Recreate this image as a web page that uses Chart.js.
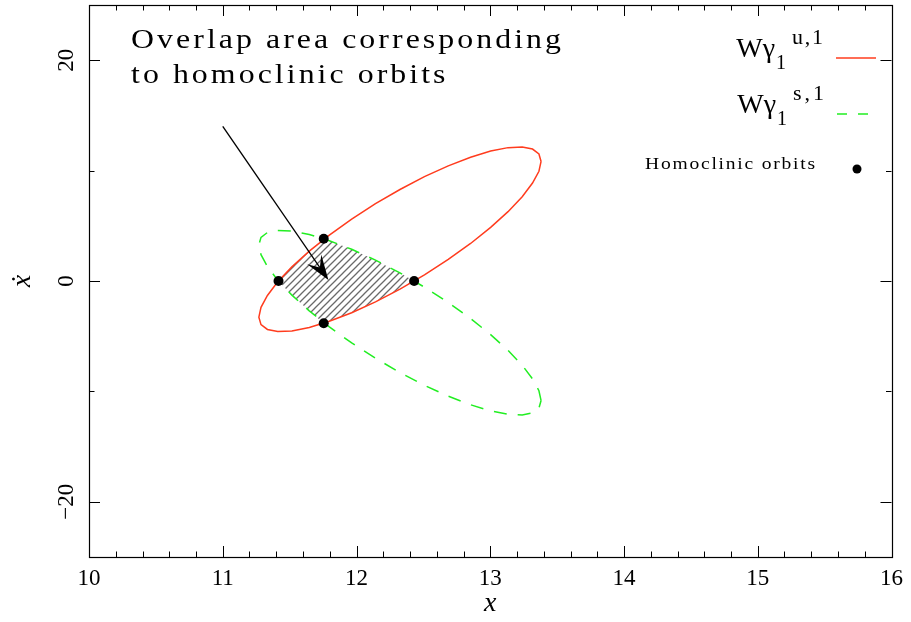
<!DOCTYPE html>
<html><head><meta charset="utf-8">
<script src="https://cdn.jsdelivr.net/npm/chart.js@4.4.1/dist/chart.umd.min.js"></script>
<style>html,body{margin:0;padding:0;background:#fff;}</style>
</head><body>
<canvas id="c" width="911" height="622"></canvas>
<script>
// ---- data ----
const unstableX = [13.380,13.364,13.316,13.239,13.133,13.003,12.853,12.686,12.508,12.325,12.142,11.964,11.797,11.647,11.517,11.411,11.334,11.286,11.270,11.286,11.334,11.411,11.517,11.647,11.797,11.964,12.142,12.325,12.508,12.686,12.853,13.003,13.133,13.239,13.316,13.364,13.380];
const unstableY = [10.83,9.94,8.87,7.63,6.28,4.86,3.40,1.95,0.56,-0.73,-1.89,-2.87,-3.65,-4.21,-4.52,-4.58,-4.39,-3.95,-3.27,-2.38,-1.31,-0.07,1.28,2.70,4.16,5.61,7.00,8.29,9.45,10.43,11.21,11.77,12.08,12.14,11.95,11.51,10.83];
const stableX = [13.380,13.364,13.316,13.239,13.133,13.003,12.853,12.686,12.508,12.325,12.142,11.964,11.797,11.647,11.517,11.411,11.334,11.286,11.270,11.286,11.334,11.411,11.517,11.647,11.797,11.964,12.142,12.325,12.508,12.686,12.853,13.003,13.133,13.239,13.316,13.364,13.380];
const stableY = [-10.83,-9.94,-8.87,-7.63,-6.28,-4.86,-3.40,-1.95,-0.56,0.73,1.89,2.87,3.65,4.21,4.52,4.58,4.39,3.95,3.27,2.38,1.31,0.07,-1.28,-2.70,-4.16,-5.61,-7.00,-8.29,-9.45,-10.43,-11.21,-11.77,-12.08,-12.14,-11.95,-11.51,-10.83];
const overlapX = [11.417,11.517,11.647,11.755,11.797,11.964,12.142,12.325,12.431,12.325,12.142,11.964,11.797,11.755,11.647,11.517];
const overlapY = [0,1.28,2.70,3.82,3.65,2.87,1.89,0.73,0,-0.73,-1.89,-2.87,-3.65,-3.82,-2.70,-1.28];
const homoclinicX = [11.417,11.755,12.431,11.755];
const homoclinicY = [0,3.82,0,-3.82];
const arrowX = [11.0, 11.79];
const arrowY = [14.0, 0.1];
const xTickValues = [10,11,12,13,14,15,16];
const xTickLabels = ['10','11','12','13','14','15','16'];
const yTickValues = [-20,0,20];
const yTickLabels = ['\u221220','0','20'];
const yMinorTickValues = [-10,10];
const annotationLines = ['Overlap area corresponding','to homoclinic orbits'];
const legendHomoclinic = 'Homoclinic orbits';

// ---- styles ----
const RED = '#ff3c1e';
const GREEN = '#22ee22';
const SERIF = '"Liberation Serif", "DejaVu Serif", serif';

const canvas = document.getElementById('c');
const ctx0 = canvas.getContext('2d');
function makeHatch() {
  const s = 7, c = document.createElement('canvas');
  c.width = s; c.height = s;
  const g = c.getContext('2d');
  g.strokeStyle = '#6a6a6a'; g.lineWidth = 1.3;
  g.beginPath();
  g.moveTo(0, s); g.lineTo(s, 0);
  g.moveTo(-1, 1); g.lineTo(1, -1);
  g.moveTo(s - 1, s + 1); g.lineTo(s + 1, s - 1);
  g.stroke();
  return ctx0.createPattern(c, 'repeat');
}
function pts(xs, ys) { return xs.map((x, i) => ({x: x, y: ys[i]})); }

// draws text horizontally stretched by k and spread to a target width
function wideText(c, str, x, y, k, target, fixedSp) {
  c.save(); c.translate(x, y); c.scale(k, 1);
  const chars = [...str];
  const ws = chars.map(ch => c.measureText(ch).width);
  const w = ws.reduce((s, v) => s + v, 0);
  const sp = fixedSp !== undefined ? fixedSp : (target ? (target / k - w) / (chars.length - 1) : 0);
  let cx = 0;
  chars.forEach((ch, i) => { c.fillText(ch, cx, 0); cx += ws[i] + sp; });
  c.restore();
  return sp;
}

const decor = {
  id: 'decor',
  beforeDraw(chart) {
    const c = chart.ctx; c.save(); c.fillStyle = '#fff'; c.fillRect(0, 0, chart.width, chart.height); c.restore();
  },
  afterDraw(chart) {
    const c = chart.ctx, xs = chart.scales.x, ys = chart.scales.y, a = chart.chartArea;
    c.save();
    // tick marks (inward, all four sides)
    c.strokeStyle = '#000'; c.lineWidth = 1;
    c.beginPath();
    xs.ticks.forEach(t => {
      const v = t.value;
      if (v <= xs.min + 1e-6 || v >= xs.max - 1e-6) return;
      const p = Math.round(xs.getPixelForValue(v)) + 0.5;
      const major = Math.abs(v - Math.round(v)) < 1e-6;
      const L = major ? 11 : 5.5;
      c.moveTo(p, a.bottom); c.lineTo(p, a.bottom - L);
      c.moveTo(p, a.top); c.lineTo(p, a.top + L);
    });
    ys.ticks.forEach(t => {
      const v = t.value;
      if (v <= ys.min + 1e-6 || v >= ys.max - 1e-6) return;
      const p = Math.round(ys.getPixelForValue(v)) + 0.5;
      const major = yTickValues.indexOf(v) >= 0;
      const L = major ? 11 : 5.5;
      c.moveTo(a.left, p); c.lineTo(a.left + L, p);
      c.moveTo(a.right, p); c.lineTo(a.right - L, p);
    });
    c.stroke();
    // frame
    c.lineWidth = 1.2;
    c.strokeRect(Math.round(a.left) + 0.5, Math.round(a.top) + 0.5, Math.round(a.right - a.left), Math.round(a.bottom - a.top));

    // y tick labels (rotated)
    c.fillStyle = '#000';
    c.font = '23px ' + SERIF;
    c.textAlign = 'center'; c.textBaseline = 'middle';
    yTickValues.forEach((v, i) => {
      const p = ys.getPixelForValue(v);
      c.save(); c.translate(67, p); c.rotate(-Math.PI / 2); c.fillText(yTickLabels[i], 0, 0); c.restore();
    });

    // arrow
    const x0 = xs.getPixelForValue(arrowX[0]), y0 = ys.getPixelForValue(arrowY[0]);
    const x1 = xs.getPixelForValue(arrowX[1]), y1 = ys.getPixelForValue(arrowY[1]);
    const dx = x1 - x0, dy = y1 - y0, L = Math.hypot(dx, dy), ux = dx / L, uy = dy / L, nx = -uy, ny = ux;
    const head = 25, half = 8.5, notch = 15;
    c.strokeStyle = '#000'; c.lineWidth = 1.3;
    c.beginPath(); c.moveTo(x0, y0); c.lineTo(x1 - ux * notch, y1 - uy * notch); c.stroke();
    c.beginPath();
    c.moveTo(x1, y1);
    c.lineTo(x1 - ux * head + nx * half, y1 - uy * head + ny * half);
    c.lineTo(x1 - ux * notch, y1 - uy * notch);
    c.lineTo(x1 - ux * head - nx * half, y1 - uy * head - ny * half);
    c.closePath(); c.fill();

    // annotation text
    c.textAlign = 'left'; c.textBaseline = 'alphabetic';
    c.font = '27px ' + SERIF;
    const sp = wideText(c, annotationLines[0], 131, 48, 1.18, 430);
    wideText(c, annotationLines[1], 131, 83, 1.18, 0, sp);

    // legend
    function legendEntry(right, base, sup, lineY, color, dash, x0l, x1l) {
      c.fillStyle = '#000';
      c.font = '28px ' + SERIF; c.textAlign = 'right';
      c.fillText('W\u03B3', right, base);
      c.textAlign = 'left'; c.font = '20px ' + SERIF;
      c.fillText('1', right + 1, base + 12);
      wideText(c, sup, right + 17, base - 13, 1.1, 31);
      c.strokeStyle = color; c.lineWidth = 1.5; c.setLineDash(dash);
      c.beginPath(); c.moveTo(x0l, lineY); c.lineTo(x1l, lineY); c.stroke();
      c.setLineDash([]);
    }
    legendEntry(775, 57, 'u,1', 58, RED, [], 836, 876);
    legendEntry(776, 113, 's,1', 114, GREEN, [10, 11], 837, 868);
    c.fillStyle = '#000'; c.textAlign = 'left';
    c.font = '17px ' + SERIF;
    wideText(c, legendHomoclinic, 645, 169, 1.15, 170);
    c.beginPath(); c.arc(857, 169, 4.5, 0, Math.PI * 2); c.fill();
    c.restore();
  }
};

new Chart(canvas, {
  type: 'line',
  data: {
    datasets: [
      {label: 'Homoclinic orbits', data: pts(homoclinicX, homoclinicY), showLine: false, pointRadius: 5, pointBackgroundColor: '#000', pointBorderWidth: 0, borderColor: '#000'},
      {label: 'W unstable', data: pts(unstableX, unstableY), borderColor: RED, borderWidth: 1.5, pointRadius: 0, fill: false, tension: 0},
      {label: 'W stable', data: pts(stableX, stableY), borderColor: GREEN, borderWidth: 1.5, borderDash: [13, 11], pointRadius: 0, fill: false, tension: 0},
      {label: 'overlap', data: pts(overlapX, overlapY), borderColor: 'rgba(0,0,0,0)', borderWidth: 0, pointRadius: 0, fill: 'shape', backgroundColor: makeHatch(), tension: 0}
    ]
  },
  options: {
    responsive: false, animation: false, devicePixelRatio: 1, events: [],
    layout: {padding: {left: 0, right: 15, top: 4, bottom: 0}},
    plugins: {legend: {display: false}, tooltip: {enabled: false}},
    scales: {
      x: {
        type: 'linear', min: 10, max: 16, position: 'bottom',
        afterFit: s => { s.height = 65; },
        grid: {display: false, drawTicks: false, tickLength: 0},
        border: {display: false},
        ticks: {
          stepSize: 0.2, autoSkip: false, maxRotation: 0, minRotation: 0, padding: 8, color: '#000',
          font: {family: SERIF, size: 23},
          callback: v => {
            const idx = xTickValues.findIndex(t => Math.abs(t - v) < 1e-6);
            return idx >= 0 ? xTickLabels[idx] : '';
          }
        },
        title: {display: true, text: 'x', color: '#000', font: {family: SERIF, size: 28, style: 'italic'}, padding: {top: 0, bottom: 2}}
      },
      y: {
        type: 'linear', min: -25, max: 25, position: 'left',
        afterFit: s => { s.width = 89; },
        afterBuildTicks: s => {
          s.ticks = yTickValues.concat(yMinorTickValues).sort((p, q) => p - q).map(v => ({value: v}));
        },
        grid: {display: false, drawTicks: false, tickLength: 0},
        border: {display: false},
        ticks: {display: false},
        title: {display: true, text: '\u1E8B', color: '#000', font: {family: SERIF, size: 28, style: 'italic'}, padding: {top: 6, bottom: 0}}
      }
    }
  },
  plugins: [decor]
});
</script>
</body></html>
